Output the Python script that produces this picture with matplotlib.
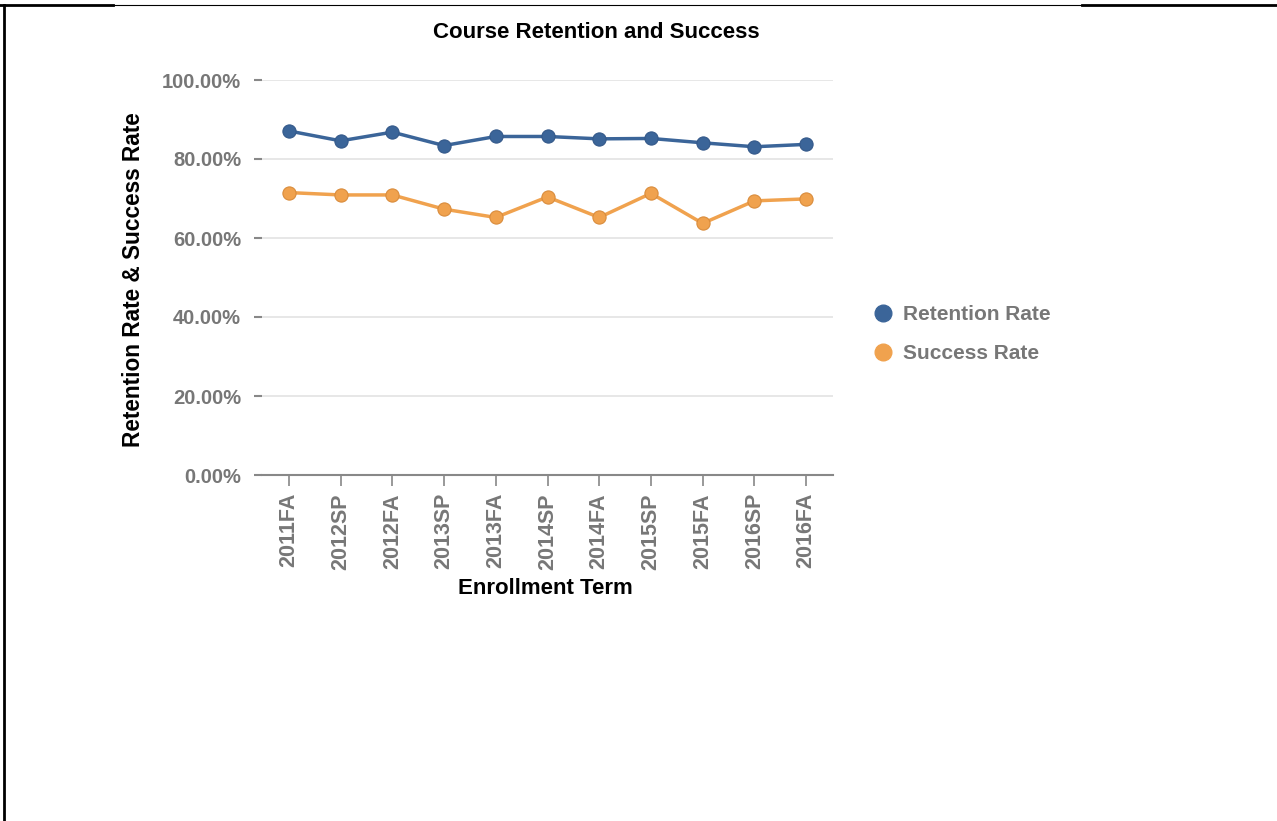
import matplotlib.pyplot as plt
from matplotlib.lines import Line2D
from matplotlib.ticker import FuncFormatter

terms = ['2011FA', '2012SP', '2012FA', '2013SP', '2013FA', '2014SP',
         '2014FA', '2015SP', '2015FA', '2016SP', '2016FA']
retention = [87.1, 84.6, 86.8, 83.4, 85.7, 85.7, 85.1, 85.2, 84.1, 83.1, 83.7]
success = [71.5, 70.9, 70.9, 67.3, 65.2, 70.4, 65.2, 71.3, 63.7, 69.4, 69.9]

blue = '#3b6599'
orange = '#f0a24e'
gray = '#777777'

plt.rcParams['font.family'] = ['Liberation Sans', 'DejaVu Sans']
plt.rcParams['font.weight'] = 'bold'

fig = plt.figure(figsize=(12.77, 8.21), dpi=100)
ax = fig.add_axes([262 / 1277, 1 - 475 / 821, 571 / 1277, 395 / 821])

x = list(range(len(terms)))
ax.plot(x, retention, color=blue, lw=2.5, marker='o', ms=9.5,
        mfc=blue, mec='#34598a', mew=0.8, zorder=3)
ax.plot(x, success, color=orange, lw=2.5, marker='o', ms=9.5,
        mfc=orange, mec='#d98c3c', mew=0.8, zorder=3)

ax.set_xlim(-0.52, len(terms) - 0.48)
ax.set_ylim(0, 100)
ax.set_yticks([0, 20, 40, 60, 80, 100])
ax.yaxis.set_major_formatter(FuncFormatter(lambda v, p: f'{v:.2f}%'))
ax.set_xticks(x)
ax.set_xticklabels(terms, rotation=90, fontweight='bold', fontsize=15.5)

for s in ['top', 'right', 'left']:
    ax.spines[s].set_visible(False)
ax.spines['bottom'].set_color('#888888')
ax.spines['bottom'].set_linewidth(1.5)

ax.grid(axis='y', color='#e3e3e3', lw=1.2)
ax.set_axisbelow(True)
ax.tick_params(axis='y', length=6, width=1.5, color='#888888', pad=9,
               labelsize=14.5, labelcolor=gray)
ax.tick_params(axis='x', length=8, width=1.2, color='#888888', pad=5,
               labelcolor=gray)
for lab in ax.get_yticklabels():
    lab.set_fontweight('bold')

fig.text(596 / 1277, 1 - 32 / 821, 'Course Retention and Success',
         ha='center', va='center', fontsize=16, fontweight='bold', color='black')
fig.text(545 / 1277, 1 - 588 / 821, 'Enrollment Term',
         ha='center', va='center', fontsize=16, fontweight='bold', color='black')
fig.text(133 / 1277, 1 - 280 / 821, 'Retention Rate & Success Rate', rotation=90,
         ha='center', va='center', fontsize=16.3, fontweight='bold', color='black')

handles = [Line2D([], [], ls='none', marker='o', ms=12, color=blue),
           Line2D([], [], ls='none', marker='o', ms=12, color=orange)]
leg = fig.legend(handles, ['Retention Rate', 'Success Rate'],
                 loc='center left', bbox_to_anchor=(852 / 1277, 1 - 334 / 821),
                 frameon=False, fontsize=15, handletextpad=0.35,
                 labelspacing=0.95, handlelength=1.2)
for t in leg.get_texts():
    t.set_color(gray)
    t.set_fontweight('bold')

# page border lines
fig.add_artist(Line2D([3.5 / 1277, 3.5 / 1277], [0, 1 - 5 / 821], color='black', lw=2))
fig.add_artist(Line2D([0, 113 / 1277], [1 - 5 / 821, 1 - 5 / 821], color='black', lw=2))
fig.add_artist(Line2D([113 / 1277, 1082 / 1277], [1 - 5 / 821, 1 - 5 / 821], color='black', lw=0.8))
fig.add_artist(Line2D([1082 / 1277, 1], [1 - 5 / 821, 1 - 5 / 821], color='black', lw=2))

fig.savefig('out.png', dpi=100, facecolor='white')
